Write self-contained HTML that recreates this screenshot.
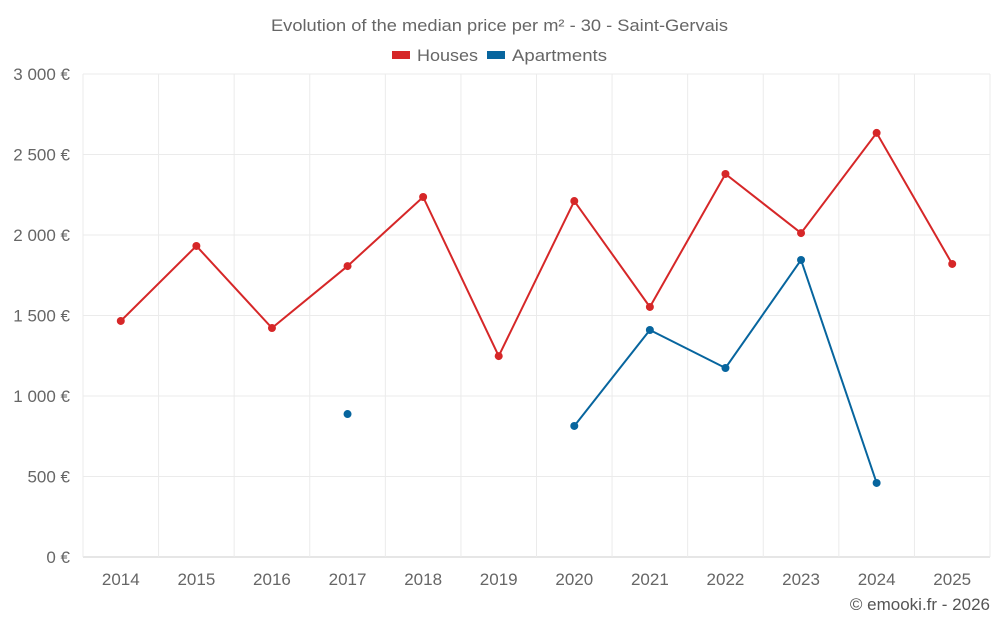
<!DOCTYPE html>
<html><head><meta charset="utf-8"><style>
body{margin:0;background:#fff;font-family:"Liberation Sans",sans-serif;}
svg text{font-family:"Liberation Sans",sans-serif;}
</style></head><body>
<svg id="chart" width="1000" height="625" xmlns="http://www.w3.org/2000/svg">
<text x="271" y="31" textLength="457" lengthAdjust="spacingAndGlyphs" font-size="17" fill="#666">Evolution of the median price per m² - 30 - Saint-Gervais</text>
<g><rect x="392" y="51" width="18" height="8" fill="#d62728"/><text x="417" y="61" textLength="61" lengthAdjust="spacingAndGlyphs" font-size="17" fill="#666">Houses</text></g>
<g><rect x="487" y="51" width="18" height="8" fill="#07659e"/><text x="512" y="61" textLength="95" lengthAdjust="spacingAndGlyphs" font-size="17" fill="#666">Apartments</text></g>
<g id="grid"></g><g id="axes"></g><g id="series"></g>
<text x="990" y="610" text-anchor="end" font-size="17" fill="#555">© emooki.fr - 2026</text>
</svg>
<script>
const years=[2014,2015,2016,2017,2018,2019,2020,2021,2022,2023,2024,2025];
const houses=[1466,1932,1422,1807,2236,1248,2211,1553,2379,2012,2634,1820];
const apartments=[null,null,null,888,null,null,814,1410,1174,1845,460,null];
const yTicks=[0,500,1000,1500,2000,2500,3000];
const yLabels=["0 €","500 €","1 000 €","1 500 €","2 000 €","2 500 €","3 000 €"];
const L=83,R=990,T=74,B=557,yMax=3000;
const bw=(R-L)/years.length;
const x=i=>L+bw*(i+0.5);
const y=v=>B-(v/yMax)*(B-T);
const NS="http://www.w3.org/2000/svg";
function mk(tag,attrs,parent){const e=document.createElementNS(NS,tag);for(const k in attrs)e.setAttribute(k,attrs[k]);document.getElementById(parent).appendChild(e);return e;}
yTicks.forEach((t,i)=>{
 const g=mk('line',{x1:L,x2:R,y1:y(t),y2:y(t),stroke:i==0?'#ccc':'#ebebeb','stroke-width':1},'grid');
 
 
 const tx=mk('text',{x:70,y:y(t)+6,'text-anchor':'end','font-size':17,fill:'#666'},'axes');
 tx.textContent=yLabels[i];
 
 
});
for(let i=0;i<=years.length;i++){
 const g=mk('line',{x1:L+bw*i,x2:L+bw*i,y1:T,y2:B,stroke:'#ebebeb'},'grid');
 
 
}
years.forEach((yr,i)=>{
 const tx=mk('text',{x:x(i),y:585,'text-anchor':'middle','font-size':17,fill:'#666'},'axes');
 tx.textContent=yr;
 
 
});
function draw(data,color,name){
 let d='',pen=false;
 data.forEach((v,i)=>{if(v==null){pen=false;return;}d+=(pen?'L':'M')+x(i)+' '+y(v)+' ';pen=true;});
 const p=mk('path',{d:d,fill:'none',stroke:color,'stroke-width':2},'series');
 
 
 data.forEach((v,i)=>{if(v==null)return;
  const c=mk('circle',{cx:x(i),cy:y(v),r:4,fill:color},'series');
  
  
 });
}
draw(houses,'#d62728','houses');
draw(apartments,'#07659e','apartments');
</script>
</body></html>
